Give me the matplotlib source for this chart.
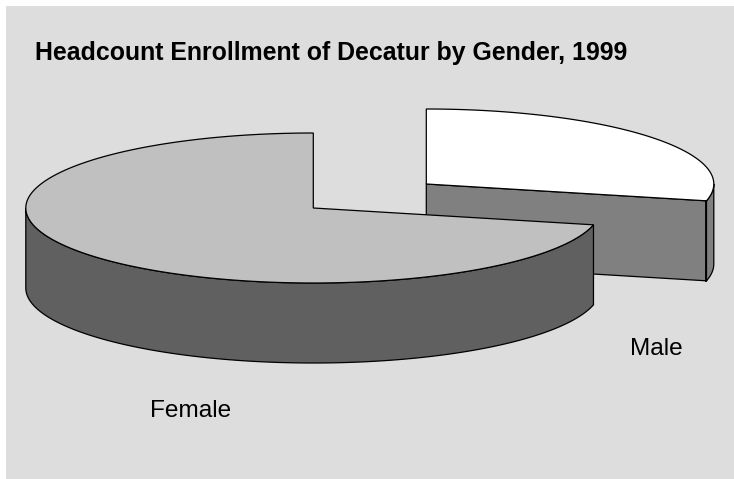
import numpy as np
import matplotlib
matplotlib.use("Agg")
import matplotlib.pyplot as plt
from matplotlib.patches import Polygon, Rectangle

matplotlib.rcParams['font.family'] = ['Liberation Sans', 'DejaVu Sans']

title = "Headcount Enrollment of Decatur by Gender, 1999"
labels = ["Male", "Female"]
shares = [28.6, 71.4]

top_colors = ["#ffffff", "#c0c0c0"]
side_colors = ["#808080", "#606060"]

# layout, in pixels of the original picture
centres = [(426.3, 184), (313.3, 208)]
label_pos = [(656, 349), (191, 411)]
rx, ry = 287.5, 75
depth = 80
edge = 0.9

def rim(cx, cy, a0, a1, n=200):
    # angles clockwise from twelve o'clock
    t = np.radians(np.linspace(a0, a1, n))
    return np.column_stack([cx + rx*np.sin(t), cy - ry*np.cos(t)])

fig = plt.figure(figsize=(7.34, 4.79), dpi=100, facecolor="white")
ax = fig.add_axes([0, 0, 1, 1])
ax.set_xlim(0, 734)
ax.set_ylim(479, 0)
ax.axis("off")

ax.add_patch(Rectangle((6, 6), 728, 473, facecolor="#dddddd", edgecolor="none"))

male_end = 360*shares[0]/sum(shares)

# male slice first, the female one sits in front of it
cx, cy = centres[0]
e = rim(cx, cy, male_end, male_end, 1)[0]
ax.add_patch(Polygon([(cx, cy), e, e + (0, depth), (cx, cy + depth)],
                     facecolor=side_colors[0], edgecolor="black", lw=edge, joinstyle="round"))
arc = rim(cx, cy, 90, male_end, 40)
ax.add_patch(Polygon(np.vstack([arc, arc[::-1] + (0, depth)]),
                     facecolor=side_colors[0], edgecolor="black", lw=edge))
ax.plot([e[0], e[0]], [e[1], e[1] + depth], color="black", lw=1.3)
ax.add_patch(Polygon(np.vstack([[(cx, cy)], rim(cx, cy, 0, male_end)]),
                     facecolor=top_colors[0], edgecolor="black", lw=edge))

cx, cy = centres[1]
arc = rim(cx, cy, male_end, 270)
ax.add_patch(Polygon(np.vstack([arc, arc[::-1] + (0, depth)]),
                     facecolor=side_colors[1], edgecolor="black", lw=edge))
ax.add_patch(Polygon(np.vstack([[(cx, cy)], rim(cx, cy, male_end, 360, 400)]),
                     facecolor=top_colors[1], edgecolor="black", lw=edge))

ax.text(35, 53, title, fontsize=17.9, fontweight="bold", color="black", va="center", ha="left")
for lab, pos in zip(labels, label_pos):
    ax.text(pos[0], pos[1], lab, fontsize=17.6, color="black", va="center", ha="center")

fig.savefig("out.png", dpi=100, facecolor="white")
